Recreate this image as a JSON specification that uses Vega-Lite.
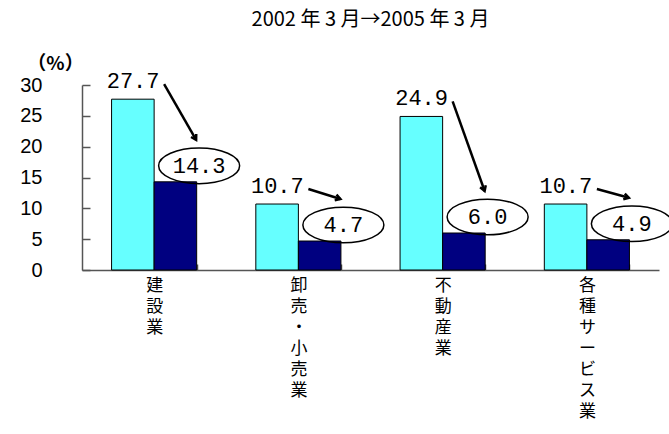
{
  "$schema": "https://vega.github.io/schema/vega-lite/v6.json",
  "width": 577,
  "height": 185,
  "autosize": {"type": "none"},
  "padding": {"left": 82, "top": 85, "right": 10, "bottom": 164},
  "background": "white",
  "title": {
    "text": "2002 年 3 月→2005 年 3 月",
    "font": "Noto Sans CJK JP",
    "fontSize": 20,
    "fontWeight": "normal",
    "color": "#000000",
    "anchor": "middle",
    "frame": "group",
    "offset": 24
  },
  "config": {
    "view": {"stroke": null},
    "axis": {"grid": false, "labelOverlap": false},
    "axisY": {
      "titleAngle": 0,
      "titleX": -27,
      "titleY": -22,
      "titleAlign": "center",
      "titleBaseline": "middle",
      "titleFont": "Noto Sans CJK JP",
      "titleFontSize": 19,
      "titleFontWeight": "bold",
      "titleColor": "#000000",
      "labelFont": "Liberation Sans",
      "labelFontSize": 20,
      "labelColor": "#000000",
      "labelPadding": 48,
      "tickSize": -8,
      "tickColor": "#555555",
      "tickWidth": 1.5,
      "domainColor": "#555555",
      "domainWidth": 1.5
    }
  },
  "data": {
    "values": [
      {"industry": "建設業", "y2002": 27.7, "y2005": 14.3},
      {"industry": "卸売・小売業", "y2002": 10.7, "y2005": 4.7},
      {"industry": "不動産業", "y2002": 24.9, "y2005": 6.0},
      {"industry": "各種サービス業", "y2002": 10.7, "y2005": 4.9}
    ]
  },
  "encoding": {
    "x": {
      "field": "industry",
      "type": "nominal",
      "sort": null,
      "scale": {"paddingInner": 0.41, "paddingOuter": 0.205},
      "axis": {
        "title": null,
        "labelAngle": 0,
        "labelExpr": "split(datum.label, '')",
        "labelFont": "Noto Sans CJK JP",
        "labelFontSize": 17,
        "labelLineHeight": 21,
        "labelBaseline": "top",
        "labelColor": "#000000",
        "labelPadding": 13,
        "tickBand": "extent",
        "tickSize": -6,
        "tickColor": "#555555",
        "tickWidth": 1.5,
        "domainColor": "#555555",
        "domainWidth": 1.5
      }
    }
  },
  "layer": [
    {
      "transform": [{"fold": ["y2002", "y2005"], "as": ["period", "value"]}],
      "mark": {"type": "bar", "stroke": "#000000", "strokeWidth": 1},
      "encoding": {
        "xOffset": {"field": "period", "type": "nominal", "sort": ["y2002", "y2005"], "scale": {"paddingInner": 0, "paddingOuter": 0}},
        "y": {
          "field": "value",
          "type": "quantitative",
          "scale": {"domain": [0, 30], "nice": false},
          "axis": {"values": [0, 5, 10, 15, 20, 25, 30], "tickCount": 7, "title": "（%）"}
        },
        "color": {
          "field": "period",
          "type": "nominal",
          "scale": {"domain": ["y2002", "y2005"], "range": ["#66FFFF", "#000080"]},
          "legend": null
        }
      }
    },
    {
      "mark": {"type": "rule", "stroke": "#000000", "strokeWidth": 2.5, "xOffset": 10, "x2Offset": 42, "yOffset": -15, "y2Offset": -42},
      "encoding": {
        "x2": {"field": "industry"},
        "y": {"field": "y2002", "type": "quantitative", "axis": {"values": [0, 5, 10, 15, 20, 25, 30], "tickCount": 7, "title": "（%）"}},
        "y2": {"field": "y2005"}
      }
    },
    {
      "mark": {
        "type": "point",
        "shape": "M-0.6,1 L0,0 L0.6,1",
        "filled": false,
        "stroke": "#000000",
        "strokeWidth": 2.5,
        "opacity": 1,
        "size": 100,
        "xOffset": 42,
        "yOffset": -42,
        "angle": {"expr": "(atan2(32, -(scale('y', datum.y2005) - scale('y', datum.y2002) - 27)) * 180 / PI + 360) % 360"}
      },
      "encoding": {
        "y": {"field": "y2005", "type": "quantitative", "axis": {"values": [0, 5, 10, 15, 20, 25, 30], "tickCount": 7, "title": "（%）"}}
      }
    },
    {
      "mark": {"type": "text", "font": "Liberation Mono", "fontSize": 22, "color": "#000000", "baseline": "alphabetic", "align": "center", "xOffset": -21, "dy": -11},
      "encoding": {
        "y": {"field": "y2002", "type": "quantitative", "axis": {"values": [0, 5, 10, 15, 20, 25, 30], "tickCount": 7, "title": "（%）"}},
        "text": {"field": "y2002", "type": "quantitative", "format": ".1f"}
      }
    },
    {
      "mark": {
        "type": "point",
        "shape": "M-1,0 A1,0.44 0 1,1 1,0 A1,0.44 0 1,1 -1,0 Z",
        "filled": false,
        "stroke": "#000000",
        "strokeWidth": 1.5,
        "opacity": 1,
        "size": 6561,
        "xOffset": 45,
        "yOffset": -16
      },
      "encoding": {
        "y": {"field": "y2005", "type": "quantitative", "axis": {"values": [0, 5, 10, 15, 20, 25, 30], "tickCount": 7, "title": "（%）"}}
      }
    },
    {
      "mark": {"type": "text", "font": "Liberation Mono", "fontSize": 22, "color": "#000000", "baseline": "middle", "align": "center", "xOffset": 45, "yOffset": -16},
      "encoding": {
        "y": {"field": "y2005", "type": "quantitative", "axis": {"values": [0, 5, 10, 15, 20, 25, 30], "tickCount": 7, "title": "（%）"}},
        "text": {"field": "y2005", "type": "quantitative", "format": ".1f"}
      }
    }
  ]
}
